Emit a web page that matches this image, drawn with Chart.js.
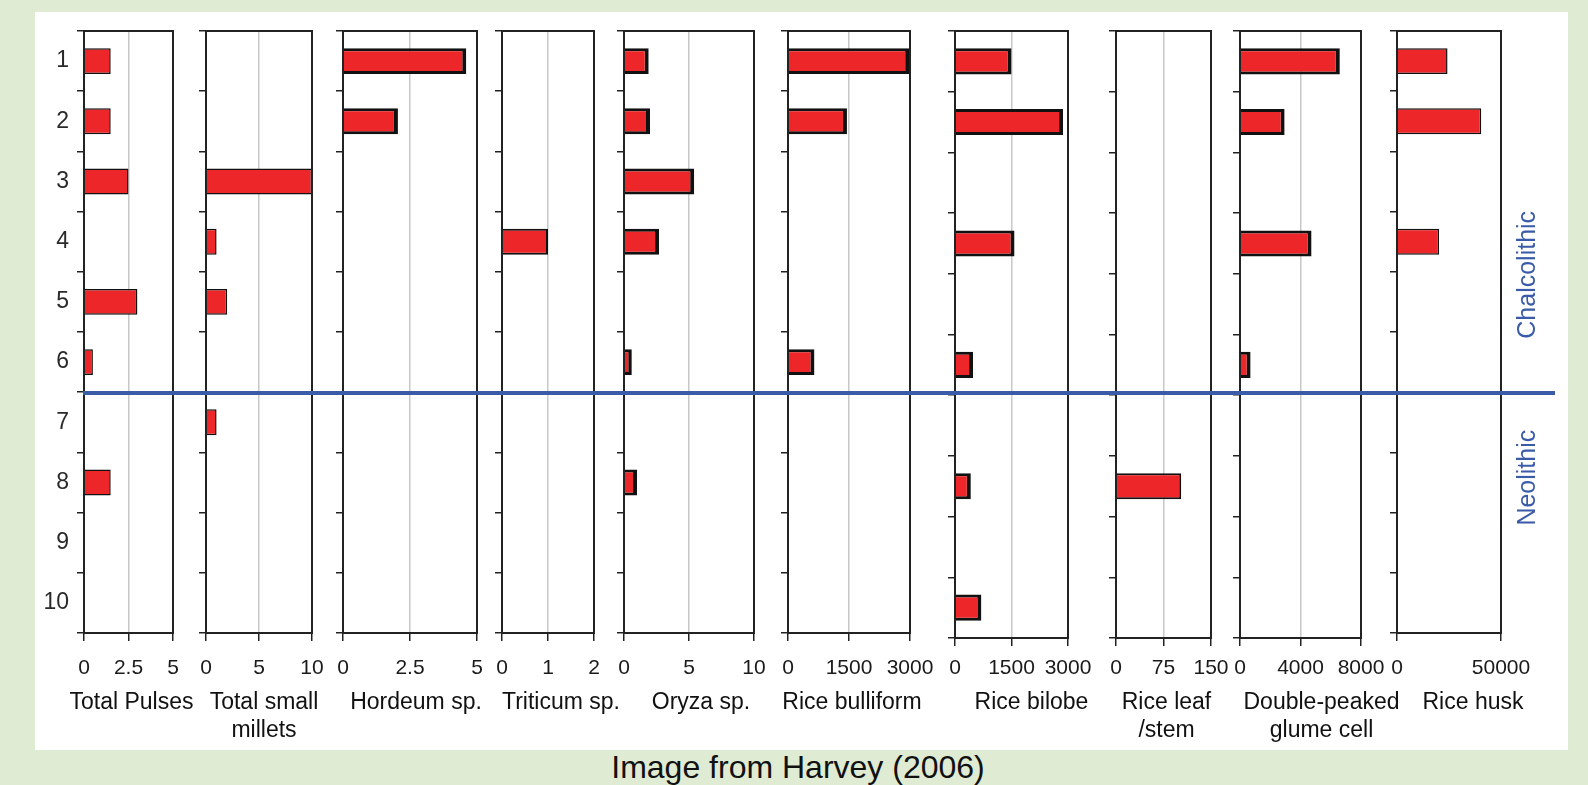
<!DOCTYPE html>
<html>
<head>
<meta charset="utf-8">
<script src="https://cdn.jsdelivr.net/npm/chart.js@4.4.1/dist/chart.umd.min.js"></script>
<style>
  body { margin: 0; background: #dfebd3; width: 1588px; height: 785px; position: relative; overflow: hidden; font-family: "Liberation Sans", Arial, sans-serif; }
  #sheet { position: absolute; left: 35px; top: 12px; width: 1533px; height: 738px; background: #fff; }
  canvas { position: absolute; }
  #caption { position: absolute; left: 35px; width: 1526px; top: 749px; line-height: 36px; text-align: center; font-size: 32px; color: #111; }
</style>
</head>
<body>
<div id="sheet"></div>
<div id="caption">Image from Harvey (2006)</div>
<script>
// samples (rows) and counts per taxon
var samples = ['1', '2', '3', '4', '5', '6', '7', '8', '9', '10'];
var totalPulses = [1.5, 1.5, 2.5, null, 3, 0.5, null, 1.5, null, null];
var totalSmallMillets = [null, null, 10, 1, 2, null, 1, null, null, null];
var hordeum = [4.6, 2.05, null, null, null, null, null, null, null, null];
var triticum = [null, null, null, 1, null, null, null, null, null, null];
var oryza = [1.9, 2.0, 5.4, 2.7, null, 0.6, null, 1.0, null, null];
var riceBulliform = [2980, 1450, null, null, null, 650, null, null, null, null];
var riceBilobe = [1500, 2870, null, 1580, null, 480, null, 420, null, 700];
var riceLeafStem = [null, null, null, null, null, null, null, 103, null, null];
var glumeCell = [6600, 2950, null, 4730, null, 700, null, null, null, null];
var riceHusk = [24300, 40500, null, 20200, null, null, null, null, null, null];

// x axis ticks
var pulsesTicks = [0, 2.5, 5];
var milletTicks = [0, 5, 10];
var hordeumTicks = [0, 2.5, 5];
var triticumTicks = [0, 1, 2];
var oryzaTicks = [0, 5, 10];
var bulliformTicks = [0, 1500, 3000];
var bilobeTicks = [0, 1500, 3000];
var leafTicks = [0, 75, 150];
var glumeTicks = [0, 4000, 8000];
var huskTicks = [0, 50000];

var periodNames = ['Chalcolithic', 'Neolithic'];

Chart.defaults.font.family = '"Liberation Sans", Arial, sans-serif';

var RED = '#ec2629';
var BLUE = '#3a5ba8';
var INK = '#222';
var thin = 1.5;
var mid = 2;
var thick = { top: 3, right: 4, bottom: 3, left: 0 };

// page layout of each small panel (chart area, page px)
var panels = [
    { title: ['Total Pulses'], values: totalPulses, ticks: pulsesTicks, left: 84, right: 173, bottom: 633, border: thin, shift: 3 },
    { title: ['Total small', 'millets'], values: totalSmallMillets, ticks: milletTicks, left: 206, right: 312, bottom: 633, border: thin, shift: 5 },
    { title: ['Hordeum sp.'], values: hordeum, ticks: hordeumTicks, left: 343, right: 477, bottom: 633, border: thick, shift: 6 },
    { title: ['Triticum sp.'], values: triticum, ticks: triticumTicks, left: 502, right: 594, bottom: 633, border: mid, shift: 13 },
    { title: ['Oryza sp.'], values: oryza, ticks: oryzaTicks, left: 624, right: 754, bottom: 633, border: thick, shift: 12 },
    { title: ['Rice bulliform'], values: riceBulliform, ticks: bulliformTicks, left: 788, right: 910, bottom: 633, border: thick, shift: 3 },
    { title: ['Rice bilobe'], values: riceBilobe, ticks: bilobeTicks, left: 955, right: 1068, bottom: 638, border: thick, shift: 20 },
    { title: ['Rice leaf', '/stem'], values: riceLeafStem, ticks: leafTicks, left: 1116, right: 1211, bottom: 638, border: mid, shift: 3 },
    { title: ['Double-peaked', 'glume cell'], values: glumeCell, ticks: glumeTicks, left: 1240, right: 1361, bottom: 638, border: thick, shift: 21 },
    { title: ['Rice husk'], values: riceHusk, ticks: huskTicks, left: 1397, right: 1501, bottom: 633, border: thin, shift: 24 }
];

var CANVAS_TOP = 20;
var CANVAS_H = 750;
var DIVIDER_Y = 393 - CANVAS_TOP; // same height on every panel

var framePlugin = {
    id: 'frame',
    afterDatasetsDraw: function (chart) {
        var a = chart.chartArea, ctx = chart.ctx;
        ctx.save();
        ctx.strokeStyle = INK;
        ctx.lineWidth = 2;
        ctx.strokeRect(a.left, a.top, a.right - a.left, a.bottom - a.top);
        ctx.restore();
    }
};

var extrasPlugin = {
    id: 'extras',
    afterDraw: function (chart, args, opts) {
        var ctx = chart.ctx, a = chart.chartArea, y = chart.scales.y;
        ctx.save();
        // period divider between sample 6 and 7
        ctx.strokeStyle = BLUE;
        ctx.lineWidth = 4;
        ctx.beginPath();
        ctx.moveTo(opts.first ? a.left - 1 : 0, DIVIDER_Y);
        ctx.lineTo(opts.last ? a.right + 54 : chart.width, DIVIDER_Y);
        ctx.stroke();
        // panel name
        ctx.fillStyle = '#111';
        ctx.font = '23px "Liberation Sans", Arial, sans-serif';
        ctx.textAlign = 'center';
        ctx.textBaseline = 'middle';
        var cx = (a.left + a.right) / 2 + opts.shift;
        opts.title.forEach(function (line, i) {
            ctx.fillText(line, cx, 683 + i * 27.5);
        });
        if (opts.last) {
            ctx.fillStyle = BLUE;
            ctx.font = '25px "Liberation Sans", Arial, sans-serif';
            var tx = a.right + 27;
            [[periodNames[0], 3.55], [periodNames[1], 6.92]].forEach(function (p) {
                ctx.save();
                ctx.translate(tx, y.getPixelForValue(p[1]));
                ctx.rotate(-Math.PI / 2);
                ctx.fillText(p[0], 0, 0);
                ctx.restore();
            });
        }
        ctx.restore();
    }
};

panels.forEach(function (p, i) {
    var first = i === 0, last = i === panels.length - 1;
    var mL = first ? 70 : 40;
    var mR = last ? 70 : 40;
    var yW = first ? 60 : 20;
    var bottomC = p.bottom - CANVAS_TOP;
    var lo = p.ticks[0], hi = p.ticks[p.ticks.length - 1];

    var cv = document.createElement('canvas');
    cv.width = p.right - p.left + mL + mR;
    cv.height = CANVAS_H;
    cv.style.left = (p.left - mL) + 'px';
    cv.style.top = CANVAS_TOP + 'px';
    document.body.appendChild(cv);

    new Chart(cv.getContext('2d'), {
        type: 'bar',
        data: {
            labels: samples,
            datasets: [{
                data: p.values,
                backgroundColor: RED,
                borderColor: '#111',
                borderWidth: p.border,
                barPercentage: 0.43,
                categoryPercentage: 1
            }]
        },
        options: {
            indexAxis: 'y',
            responsive: false,
            animation: false,
            events: [],
            layout: { padding: { left: mL - yW, right: mR, top: 31 - CANVAS_TOP, bottom: 0 } },
            plugins: {
                legend: { display: false },
                tooltip: { enabled: false },
                extras: { first: first, last: last, title: p.title, shift: p.shift }
            },
            scales: {
                x: {
                    type: 'linear',
                    min: lo,
                    max: hi,
                    afterBuildTicks: function (s) {
                        s.ticks = p.ticks.map(function (v) { return { value: v }; });
                    },
                    afterFit: function (s) {
                        s.height = CANVAS_H - bottomC;
                        s.paddingLeft = 0;
                        s.paddingRight = 0;
                    },
                    grid: {
                        color: function (c) {
                            return c.tick && c.tick.value > lo && c.tick.value < hi ? '#c8c8c8' : 'rgba(0,0,0,0)';
                        },
                        lineWidth: 1.5,
                        tickColor: INK,
                        tickLength: 8
                    },
                    border: { display: true, color: INK, width: 2 },
                    ticks: {
                        maxRotation: 0,
                        autoSkip: false,
                        padding: 15 - (p.bottom - 633),
                        color: '#1a1a1a',
                        font: { size: 21 },
                        callback: function (v) { return String(v); }
                    }
                },
                y: {
                    type: 'category',
                    afterFit: function (s) {
                        s.width = yW;
                        s.paddingTop = 0;
                        s.paddingBottom = 0;
                    },
                    grid: {
                        offset: true,
                        drawOnChartArea: false,
                        drawTicks: true,
                        tickLength: 7,
                        color: INK,
                        lineWidth: 1.5
                    },
                    border: { display: true, color: INK, width: 2 },
                    ticks: {
                        display: first,
                        autoSkip: false,
                        padding: 8,
                        color: '#2a2a2a',
                        font: { size: 23 }
                    }
                }
            }
        },
        plugins: [framePlugin, extrasPlugin]
    });
});
</script>
</body>
</html>
